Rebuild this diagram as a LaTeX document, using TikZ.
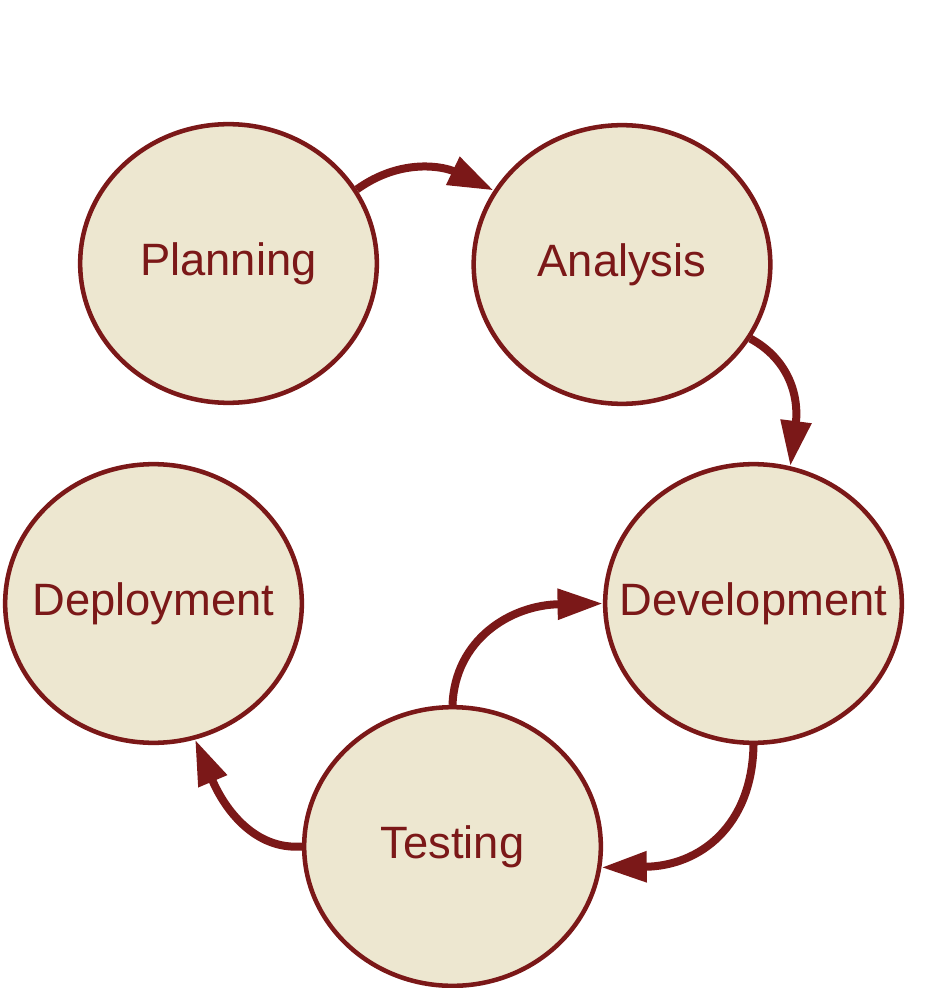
\documentclass[tikz,border=0pt]{standalone}
\usepackage{fontspec}
\setmainfont{Liberation Sans}
\usepackage{tikz}
\usetikzlibrary{shapes.geometric,arrows.meta}
\definecolor{phasered}{RGB}{123,24,24}
\definecolor{phasefill}{RGB}{237,231,208}

\begin{document}
\begin{tikzpicture}[x=0.75pt,y=0.75pt,yscale=-1,xscale=1,
  phase/.style={ellipse,draw=phasered,fill=phasefill,line width=3.4pt,minimum width=222.5pt,minimum height=209pt,inner sep=0pt,text=phasered,font=\fontsize{34}{40}\selectfont},
  flow/.style={draw=phasered,line width=6pt,-{Triangle[length=34pt,width=22pt]}}]
\useasboundingbox (0,0) rectangle (947,988);

% Ellipse nodes
\node [phase] (plan) at (228.5,263.5) {\makebox[0pt]{Planning}};
\node [phase] (ana) at (622,264.5) {\makebox[0pt]{Analysis}};
\node [phase] (dev) at (753.5,603.5) {\makebox[0pt]{Development}};
\node [phase] (dep) at (153.5,603.5) {\makebox[0pt]{Deployment}};
\node [phase] (test) at (452.5,846.5) {\makebox[0pt]{Testing}};

% Curved Lines
\draw [flow] (plan.30) .. controls (402,157) and (445,167) .. (ana.150);
\draw [flow] (ana.-30) .. controls (790,360) and (799,398) .. (dev.75);
\draw [flow] (dev.south) .. controls (752,826) and (700,866) .. (test.-8);
\draw [flow] (test.north) .. controls (455,640) and (510,605) .. (dev.west);
\draw [flow] (test.west) .. controls (255,850) and (225,810) .. (dep.-73);

\end{tikzpicture}
\end{document}
